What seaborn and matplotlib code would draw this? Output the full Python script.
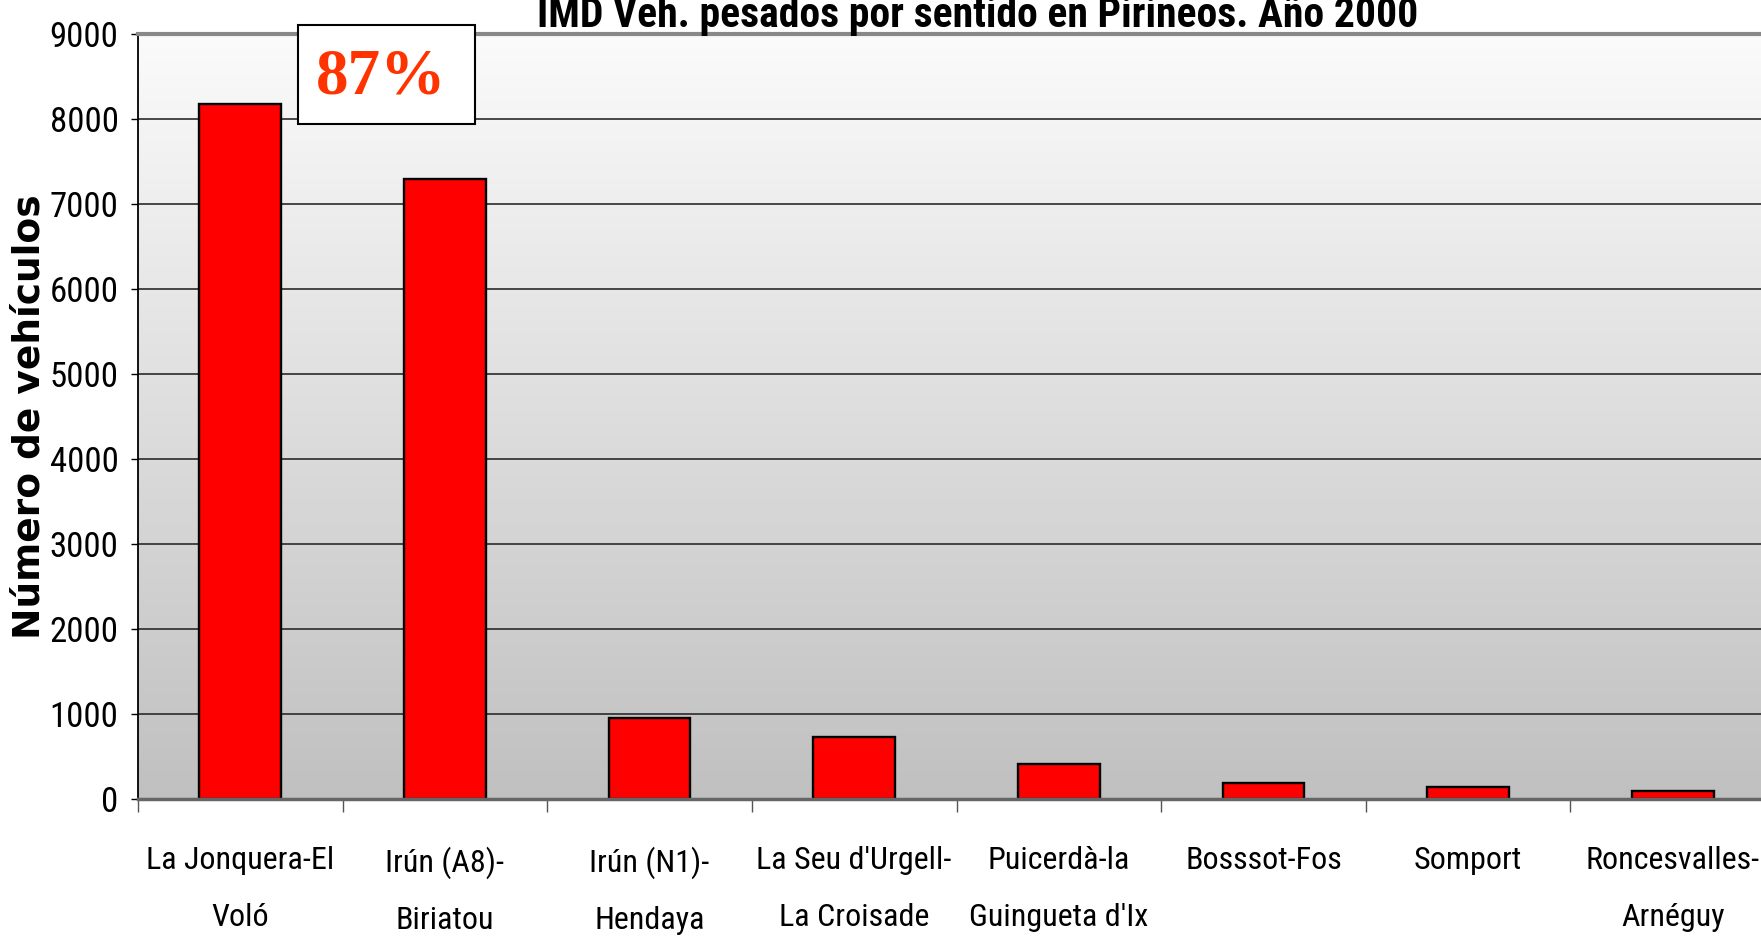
import numpy as np
import pandas as pd
import matplotlib
matplotlib.use("Agg")
import matplotlib.pyplot as plt
import seaborn as sns
from matplotlib.patches import Rectangle
from matplotlib import font_manager as fm

# ---- data ----
categories = ["La Jonquera-El\nVoló", "Irún (A8)-\nBiriatou", "Irún (N1)-\nHendaya",
              "La Seu d'Urgell-\nLa Croisade", "Puicerdà-la\nGuingueta d'Ix",
              "Bosssot-Fos", "Somport", "Roncesvalles-\nArnéguy"]
values = [8180, 7290, 955, 725, 415, 190, 140, 100]
yticks = [0, 1000, 2000, 3000, 4000, 5000, 6000, 7000, 8000, 9000]
title = "IMD Veh. pesados por sentido en Pirineos. Año 2000"
ylabel = "Número de vehículos"
note = "87%"

sns.set_theme(style="white")
available = {f.name for f in fm.fontManager.ttflist}
prefs = ["Liberation Sans Narrow", "Arial Narrow", "Roboto Condensed", "Archivo Narrow",
         "PT Sans Narrow", "Asap Condensed", "Liberation Sans"]
narrow_name = next((p for p in prefs if p in available), "DejaVu Sans")
narrow = [narrow_name, "DejaVu Sans"]
plt.rcParams["font.family"] = narrow
for k in ["text.color", "axes.labelcolor", "xtick.color", "ytick.color"]:
    plt.rcParams[k] = "black"

W, H = 1761, 936
fig = plt.figure(figsize=(W / 100, H / 100), dpi=100)
fig.patch.set_facecolor("white")
left, right, top, bottom = 138, 1775, 34, 799
ax = fig.add_axes([left / W, 1 - bottom / H, (right - left) / W, (bottom - top) / H])

# gradient background
grad = np.linspace(251, 192, 256).reshape(-1, 1) / 255.0
grad_rgb = np.dstack([grad, grad, grad])
ax.imshow(grad_rgb, extent=[0, 1, 0, 1], transform=ax.transAxes, aspect="auto",
          zorder=0, interpolation="bilinear")

df = pd.DataFrame({"cat": categories, "val": values})
sns.barplot(data=df, x="cat", y="val", color="#ff0000", saturation=1,
            edgecolor="black", linewidth=1.7, width=0.4, ax=ax, zorder=3)

ax.set_xlim(-0.5, len(categories) - 0.5)
ax.set_ylim(0, 9000)
ax.set_yticks(yticks)
ax.set_yticklabels([str(v) for v in yticks], fontsize=25)
for v in yticks[1:-1]:
    ax.axhline(v, color="#2a2a2a", lw=1.2, zorder=1)

ax.set_xticks(range(len(categories)))
ax.set_xticklabels(categories, fontsize=23, linespacing=2.2)
ax.set_xticks(np.arange(-0.5, len(categories), 1.0), minor=True)
ax.tick_params(axis="x", which="major", length=0, pad=34)
ax.tick_params(axis="x", which="minor", length=9, width=1, color="#555555", direction="out", bottom=True)
ax.tick_params(axis="y", which="major", length=5, width=1, color="black", pad=9, left=True)
ax.set_xlabel("")
ax.set_ylabel(ylabel, fontsize=27, fontweight="bold", family=["DejaVu Sans"])
ax.yaxis.set_label_coords(-0.055, 0.5)

for s in ax.spines.values():
    s.set_zorder(4)
ax.spines["left"].set_color("black")
ax.spines["left"].set_linewidth(1.3)
ax.spines["bottom"].set_color("#666666")
ax.spines["bottom"].set_linewidth(2.5)
ax.spines["top"].set_color("#888888")
ax.spines["top"].set_linewidth(3)
ax.spines["right"].set_visible(False)

fig.text(978 / W, 1 - 27 / H, title, ha="center", va="baseline", fontsize=30,
         fontweight="bold", family=narrow)

box = Rectangle((298 / W, 1 - 124 / H), (475 - 298) / W, (124 - 25) / H,
                transform=fig.transFigure, facecolor="white", edgecolor="black",
                lw=1.5, zorder=10)
fig.patches.append(box)
fig.text(381 / W, 1 - 77 / H, note, ha="center", va="center", fontsize=47,
         fontweight="bold", color="#ff3300", family=["Liberation Serif", "DejaVu Serif"],
         zorder=11)

fig.savefig("out.png", dpi=100)
